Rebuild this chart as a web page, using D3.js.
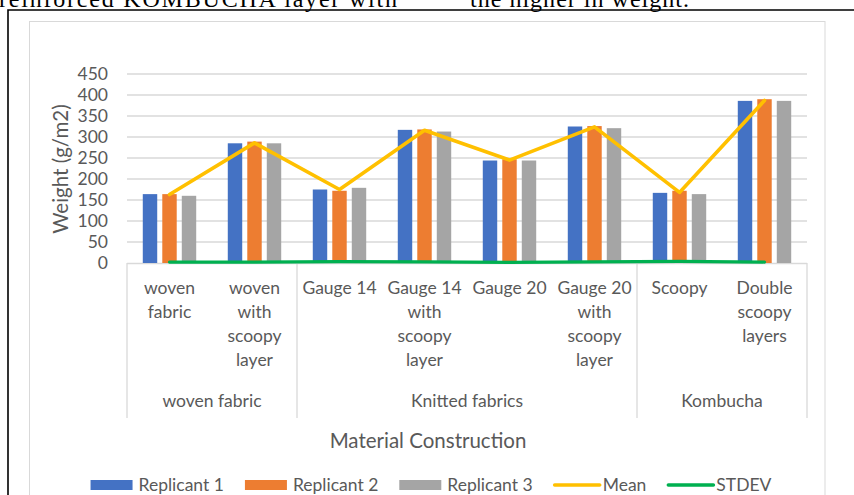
<!DOCTYPE html>
<html><head><meta charset="utf-8">
<script src="https://cdn.jsdelivr.net/npm/d3@7/dist/d3.min.js"></script>
<style>
body{margin:0;background:#fff;}
svg{display:block;}
.sans{font-family:Lato,'Open Sans',sans-serif;fill:#595959;}
</style>
</head><body>
<svg id="c" width="854" height="495"></svg>
<script>
// ---- data ----
const categories = ["woven fabric","woven with scoopy layer","Gauge 14","Gauge 14 with scoopy layer","Gauge 20","Gauge 20 with scoopy layer","Scoopy","Double scoopy layers"];
const categoryLines = [["woven","fabric"],["woven","with","scoopy","layer"],["Gauge 14"],["Gauge 14","with","scoopy","layer"],["Gauge 20"],["Gauge 20","with","scoopy","layer"],["Scoopy"],["Double","scoopy","layers"]];
const groups = ["woven fabric","Knitted fabrics","Kombucha"];
const groupOf = [0,0,1,1,1,1,2,2];
const replicant1 = [164,285,175,317,244,325,167,386];
const replicant2 = [164,289,172,318,247,326,172,390];
const replicant3 = [160,285,179,313,244,321,164,386];
const meanValues = [163,286,175,316,245,324,168,387];
const stdevValues = [2.3,2.3,3.5,2.6,1.7,2.6,4.0,2.3];
const yTicks = [0,50,100,150,200,250,300,350,400,450];
const barSeries = ["Replicant 1","Replicant 2","Replicant 3"];
const lineSeries = ["Mean","STDEV"];
const yTitle = "Weight (g/m2)";
const xTitle = "Material Construction";
const topText1 = "reinforced  KOMBUCHA  layer  with";
const topText2 = "the higher in weight.";

// ---- styles ----
const colors = {"Replicant 1":"#4472C4","Replicant 2":"#ED7D31","Replicant 3":"#A5A5A5","Mean":"#FFC000","STDEV":"#00B050"};
const grid = "#d9d9d9";
const LABEL = 17.5, TITLE = 20.5;

const svg = d3.select("#c");
const barValues = [replicant1, replicant2, replicant3];

// page text + frame
svg.append("text").attr("x",-1).attr("y",7).attr("textLength",398).attr("lengthAdjust","spacing")
  .style("font-family","'Liberation Serif','Times New Roman',serif").style("font-size","24px").attr("fill","#000").text(topText1);
svg.append("text").attr("x",470).attr("y",7).attr("textLength",219).attr("lengthAdjust","spacing")
  .style("font-family","'Liberation Serif','Times New Roman',serif").style("font-size","24px").attr("fill","#000").text(topText2);
svg.append("path").attr("d","M8,500V10H860").attr("fill","none").attr("stroke","#000").attr("stroke-width",1.6);

// chart area
svg.append("rect").attr("x",29.5).attr("y",21.5).attr("width",795.5).attr("height",490)
  .attr("fill","#fff").attr("stroke",grid).attr("stroke-width",1);

const x0 = d3.scaleBand().domain(categories).range([127,807]).padding(0);
const bw = 58.5;
const x1 = d3.scaleBand().domain(barSeries)
  .range([x0.bandwidth()/2 - bw/2, x0.bandwidth()/2 + bw/2]).paddingInner(0.26).paddingOuter(0.13);
const y = d3.scaleLinear().domain([0,450]).range([263,74]);

// gridlines
svg.append("g").selectAll("line").data(yTicks.slice(1)).join("line")
  .attr("x1",127).attr("x2",807).attr("y1",d=>y(d)).attr("y2",d=>y(d))
  .attr("stroke",grid).attr("stroke-width",1.3);

// y axis labels
const ya = svg.append("g").attr("transform","translate(127,0)")
  .call(d3.axisLeft(y).tickValues(yTicks).tickSize(0).tickPadding(19));
ya.select(".domain").remove();
ya.selectAll("text").attr("class","sans").style("font-size",LABEL+"px").attr("fill","#595959");

// y title
svg.append("text").attr("class","sans").attr("transform","translate(68,169) rotate(-90)")
  .attr("text-anchor","middle").style("font-size",TITLE+"px").text(yTitle);

// category box lines
svg.append("line").attr("x1",127).attr("x2",807).attr("y1",263.5).attr("y2",263.5).attr("stroke",grid).attr("stroke-width",1.3);
const boundaries = [0];
groupOf.forEach((g,i)=>{ if(i===groupOf.length-1 || groupOf[i+1]!==g) boundaries.push(i+1); });
svg.append("g").selectAll("line").data(boundaries).join("line")
  .attr("x1",d=> d<categories.length ? x0(categories[d]) : x0(categories[d-1])+x0.bandwidth())
  .attr("x2",d=> d<categories.length ? x0(categories[d]) : x0(categories[d-1])+x0.bandwidth())
  .attr("y1",263).attr("y2",418).attr("stroke",grid).attr("stroke-width",1.3);

// bars
const bars = svg.append("g");
categories.forEach((c,i)=>{
  barSeries.forEach((s,j)=>{
    bars.append("rect").attr("x",x0(c)+x1(s)).attr("width",x1.bandwidth())
      .attr("y",y(barValues[j][i])).attr("height",y(0)-y(barValues[j][i]))
      .attr("fill",colors[s]);
  });
});

// lines
const cx = (c)=> x0(c)+x0.bandwidth()/2;
const line = d3.line().x((d,i)=>cx(categories[i])).y(d=>y(d));
svg.append("path").datum(meanValues).attr("d",line).attr("fill","none")
  .attr("stroke",colors["Mean"]).attr("stroke-width",3.6).attr("stroke-linejoin","round").attr("stroke-linecap","round");
svg.append("path").datum(stdevValues).attr("d",line).attr("fill","none")
  .attr("stroke",colors["STDEV"]).attr("stroke-width",3.2).attr("stroke-linejoin","round").attr("stroke-linecap","round");

// category labels
categories.forEach((c,i)=>{
  const t = svg.append("text").attr("class","sans").attr("text-anchor","middle").style("font-size",LABEL+"px");
  categoryLines[i].forEach((ln,k)=>{
    t.append("tspan").attr("x",cx(c)).attr("y",294+k*24).text(ln);
  });
});
// group labels
groups.forEach((g,gi)=>{
  const idx = groupOf.map((v,i)=>v===gi?i:-1).filter(v=>v>=0);
  const a = x0(categories[idx[0]]), b = x0(categories[idx[idx.length-1]])+x0.bandwidth();
  svg.append("text").attr("class","sans").attr("text-anchor","middle").style("font-size",LABEL+"px")
    .attr("x",(a+b)/2).attr("y",407).text(g);
});

// x title
svg.append("text").attr("class","sans").attr("text-anchor","middle").style("font-size",TITLE+"px")
  .attr("x",428).attr("y",448).text(xTitle);

// legend
const leg = svg.append("g");
const items = barSeries.concat(lineSeries);
const GAP = 21;
let xp = 0;
items.forEach((s,i)=>{
  const g = leg.append("g").attr("transform",`translate(${xp},0)`);
  if(i<3){
    g.append("rect").attr("x",0).attr("y",-5).attr("width",42).attr("height",10).attr("fill",colors[s]);
  } else {
    g.append("line").attr("x1",1).attr("x2",46).attr("y1",0).attr("y2",0).attr("stroke",colors[s]).attr("stroke-width",3.6).attr("stroke-linecap","round");
  }
  const tx = i<3 ? 48 : 49;
  const t = g.append("text").attr("class","sans").style("font-size",LABEL+"px").attr("x",tx).attr("y",6).text(s);
  xp += tx + t.node().getComputedTextLength() + GAP;
});
const totalW = xp - GAP;
leg.attr("transform",`translate(${431 - totalW/2},485)`);
</script>
</body></html>
